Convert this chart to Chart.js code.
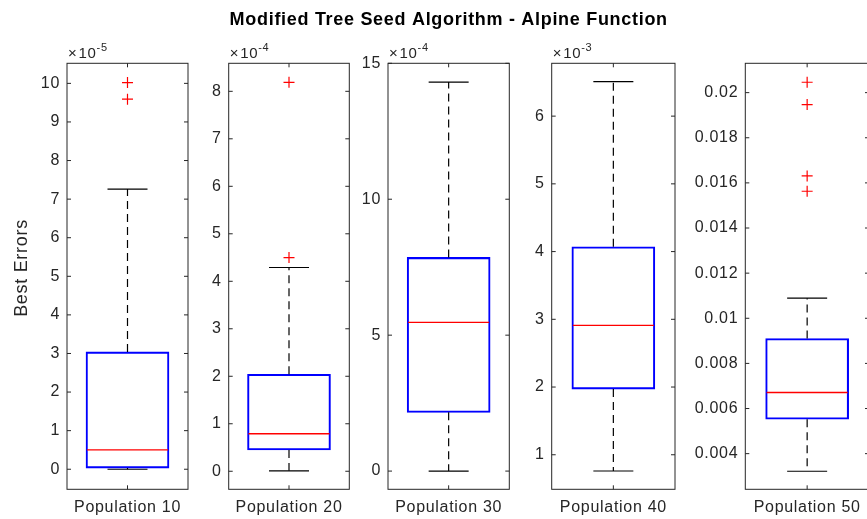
<!DOCTYPE html>
<html>
<head>
<meta charset="utf-8">
<script src="https://cdn.jsdelivr.net/npm/chart.js@4/dist/chart.umd.min.js"></script>
<style>
  html, body { margin: 0; padding: 0; background: #ffffff; }
  #wrap { position: relative; width: 867px; height: 519px; overflow: hidden; background: #ffffff; }
  #wrap canvas { position: absolute; left: 0; top: 0; }
</style>
</head>
<body>
<div id="wrap"></div>
<script>
// ---- data -------------------------------------------------------------
const chartTitle = 'Modified Tree Seed Algorithm - Alpine Function';
const yAxisTitle = 'Best Errors';
const categories = ['Population 10', 'Population 20', 'Population 30', 'Population 40', 'Population 50'];
// power of ten shown above each axis (0 = plain numbers)
const exponents = [-5, -4, -4, -3, 0];
// box-plot statistics of the best errors per population size
const lowerWhisker = [0.00e-5, 0.01e-4, 0.00e-4, 0.76e-3, 0.00322];
const q1 = [0.03e-5, 0.45e-4, 2.16e-4, 1.97e-3, 0.00553];
const median = [0.50e-5, 0.79e-4, 5.47e-4, 2.91e-3, 0.00671];
const q3 = [3.04e-5, 2.04e-4, 7.86e-4, 4.07e-3, 0.00910];
const upperWhisker = [7.26e-5, 4.29e-4, 14.31e-4, 6.51e-3, 0.01089];
const outliers = [
  [10.02e-5, 9.59e-5],
  [8.19e-4, 4.50e-4],
  [],
  [],
  [0.02046, 0.01947, 0.01631, 0.01563]
];
// tick labels (in the units shown on each axis)
const yTicks = [
  [0, 1, 2, 3, 4, 5, 6, 7, 8, 9, 10],
  [0, 1, 2, 3, 4, 5, 6, 7, 8],
  [0, 5, 10, 15],
  [1, 2, 3, 4, 5, 6],
  [0.004, 0.006, 0.008, 0.01, 0.012, 0.014, 0.016, 0.018, 0.02]
];
const yLimits = [
  [-0.52, 10.52],
  [-0.38, 8.59],
  [-0.67, 15.0],
  [0.49, 6.78],
  [0.00242, 0.0213]
];

// ---- layout -----------------------------------------------------------
const CANVAS_W = 910, CANVAS_H = 519;
const axLeft = [67, 228.7, 388, 551.7, 745.3];
const axRight = [188, 349.3, 509.3, 675, 869];
const axTop = 63.3, axBottom = 489.3;
const Y_W = 60;
const X_H = 29.7;
const INK = '#262626';
const FONT = '"Liberation Sans", Arial, Helvetica, sans-serif';
const SPACING = '0.7px';

// Draws the MATLAB-style frame, inward ticks, whiskers, caps, medians and labels
const boxParts = {
  id: 'boxParts',
  beforeDraw(chart) {
    chart.ctx.letterSpacing = SPACING;
  },
  afterDatasetsDraw(chart, args, opts) {
    const i = opts.index;
    const ctx = chart.ctx;
    const x = chart.scales.x, y = chart.scales.y;
    const a = chart.chartArea;
    const k = Math.pow(10, -exponents[i]);
    const cx = x.getPixelForValue(0);
    const boxHalf = 83 / 2, capHalf = 20;
    ctx.save();

    // whiskers
    ctx.strokeStyle = '#000000';
    ctx.lineWidth = 1.2;
    ctx.setLineDash([8, 5]);
    ctx.beginPath();
    ctx.moveTo(cx, y.getPixelForValue(q3[i] * k));
    ctx.lineTo(cx, y.getPixelForValue(upperWhisker[i] * k));
    ctx.moveTo(cx, y.getPixelForValue(q1[i] * k));
    ctx.lineTo(cx, y.getPixelForValue(lowerWhisker[i] * k));
    ctx.stroke();
    ctx.setLineDash([]);

    // whisker caps
    ctx.beginPath();
    [upperWhisker[i], lowerWhisker[i]].forEach(v => {
      const py = y.getPixelForValue(v * k);
      ctx.moveTo(cx - capHalf, py);
      ctx.lineTo(cx + capHalf, py);
    });
    ctx.stroke();

    // median
    ctx.strokeStyle = '#ff0000';
    ctx.lineWidth = 1.3;
    const my = y.getPixelForValue(median[i] * k);
    ctx.beginPath();
    ctx.moveTo(cx - boxHalf + 1, my);
    ctx.lineTo(cx + boxHalf - 1, my);
    ctx.stroke();

    // axes frame
    ctx.strokeStyle = INK;
    ctx.lineWidth = 1;
    ctx.strokeRect(a.left, a.top, a.right - a.left, a.bottom - a.top);

    // inward tick marks
    const tl = 4;
    ctx.beginPath();
    y.ticks.forEach(t => {
      const py = y.getPixelForValue(t.value);
      ctx.moveTo(a.left, py); ctx.lineTo(a.left + tl, py);
      ctx.moveTo(a.right, py); ctx.lineTo(a.right - tl, py);
    });
    ctx.moveTo(cx, a.bottom); ctx.lineTo(cx, a.bottom - tl);
    ctx.moveTo(cx, a.top); ctx.lineTo(cx, a.top + tl);
    ctx.stroke();

    ctx.letterSpacing = SPACING;

    // exponent label above the axis
    if (exponents[i] !== 0) {
      ctx.fillStyle = INK;
      ctx.textBaseline = 'alphabetic';
      ctx.textAlign = 'left';
      ctx.font = '15px ' + FONT;
      const base = a.top - 5;
      const times = '\u00d7';
      ctx.fillText(times, a.left + 1, base);
      let px = a.left + 1 + ctx.measureText(times).width + 1;
      ctx.fillText('10', px, base);
      px += ctx.measureText('10').width;
      ctx.font = '11px ' + FONT;
      ctx.fillText(String(exponents[i]), px, base - 7);
    }

    // y-axis label on the first panel
    if (opts.yLabel) {
      ctx.save();
      ctx.fillStyle = INK;
      ctx.font = '18px ' + FONT;
      ctx.textAlign = 'center';
      ctx.textBaseline = 'middle';
      ctx.translate(22.5, 268);
      ctx.rotate(-Math.PI / 2);
      ctx.fillText(opts.yLabel, 0, 0);
      ctx.restore();
    }

    // figure title
    if (opts.title) {
      ctx.fillStyle = '#000000';
      ctx.font = 'bold 18px ' + FONT;
      ctx.textAlign = 'center';
      ctx.textBaseline = 'alphabetic';
      ctx.fillText(opts.title, 448.7, 25);
    }
    ctx.restore();
  }
};

const wrap = document.getElementById('wrap');

categories.forEach((cat, i) => {
  const canvas = document.createElement('canvas');
  canvas.width = CANVAS_W;
  canvas.height = CANVAS_H;
  canvas.style.width = CANVAS_W + 'px';
  canvas.style.height = CANVAS_H + 'px';
  wrap.appendChild(canvas);

  const k = Math.pow(10, -exponents[i]);
  const fmt = v => (i === 4 ? String(+(+v).toFixed(4)) : String(v));

  new Chart(canvas, {
    type: 'bar',
    data: {
      labels: [cat],
      datasets: [
        {
          type: 'bar',
          data: [[q1[i] * k, q3[i] * k]],
          backgroundColor: 'rgba(0,0,0,0)',
          borderColor: '#0000ff',
          borderWidth: 1.4,
          borderSkipped: false,
          barThickness: 83
        },
        {
          type: 'scatter',
          data: outliers[i].map(v => ({ x: cat, y: v * k })),
          pointStyle: 'cross',
          pointRadius: 5.5,
          borderColor: '#ff0000',
          backgroundColor: '#ff0000',
          borderWidth: 1.2
        }
      ]
    },
    options: {
      responsive: false,
      animation: false,
      events: [],
      devicePixelRatio: 1,
      layout: {
        padding: {
          left: axLeft[i] - Y_W,
          right: CANVAS_W - axRight[i],
          top: axTop,
          bottom: CANVAS_H - axBottom - X_H
        }
      },
      plugins: {
        legend: { display: false },
        tooltip: { enabled: false },
        boxParts: {
          index: i,
          title: i === 2 ? chartTitle : null,
          yLabel: i === 0 ? yAxisTitle : null
        }
      },
      scales: {
        x: {
          type: 'category',
          offset: true,
          grid: { display: false, drawTicks: false },
          border: { display: false },
          ticks: { color: INK, font: { family: FONT, size: 16 }, padding: 9, maxRotation: 0 },
          afterFit: s => { s.height = X_H; }
        },
        y: {
          type: 'linear',
          min: yLimits[i][0],
          max: yLimits[i][1],
          grid: { display: false, drawTicks: false },
          border: { display: false },
          afterBuildTicks: s => { s.ticks = yTicks[i].map(v => ({ value: v })); },
          ticks: { color: INK, font: { family: FONT, size: 16 }, padding: 7, callback: fmt, autoSkip: false },
          afterFit: s => { s.width = Y_W; }
        }
      }
    },
    plugins: [boxParts]
  });
});
</script>
</body>
</html>
